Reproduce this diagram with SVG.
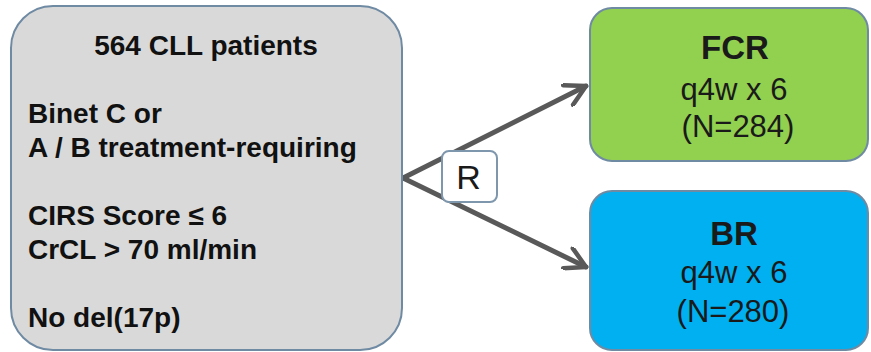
<svg xmlns="http://www.w3.org/2000/svg" width="871" height="352" viewBox="0 0 871 352">
<defs>
<style>
.box{stroke:#6f8aa3;stroke-width:2}
.bt{font-family:"Liberation Sans",Arial,sans-serif;font-weight:bold;font-size:28px;fill:#111}
.ct{font-family:"Liberation Sans",Arial,sans-serif;text-anchor:middle;fill:#1a1a1a}
.conn{stroke:#595959;stroke-width:5;fill:none;stroke-linecap:round}
</style>
<marker id="ah" viewBox="0 0 10 10" refX="9" refY="5" markerWidth="5" markerHeight="5" orient="auto" markerUnits="strokeWidth">
<path d="M1,0.6 L9,5 L1,9.4" fill="none" stroke="#595959" stroke-width="1.8" stroke-linecap="round" stroke-linejoin="round"/>
</marker>
</defs>
<rect width="871" height="352" fill="#ffffff"/>
<g id="connectors">
<path class="conn" d="M403,178 L586,86" marker-end="url(#ah)"/>
<path class="conn" d="M403,178 L586,267" marker-end="url(#ah)"/>
</g>
<g id="patients">
<rect class="box" x="11" y="6" width="391" height="344" rx="42" fill="#d9d9d9"/>
<text class="bt" x="206" y="55" text-anchor="middle">564 CLL patients</text>
<text class="bt" x="28" y="123">Binet C or</text>
<text class="bt" x="28" y="157">A / B treatment-requiring</text>
<text class="bt" x="28" y="225">CIRS Score ≤ 6</text>
<text class="bt" x="28" y="259">CrCL &gt; 70 ml/min</text>
<text class="bt" x="28" y="327">No del(17p)</text>
</g>
<g id="randomization">
<rect x="442" y="151" width="55" height="51" rx="7" fill="#ffffff" stroke="#7f97ad" stroke-width="2"/>
<text class="ct" x="468.5" y="189" font-size="34" fill="#111">R</text>
</g>
<g id="fcr">
<rect class="box" x="590" y="8" width="278" height="153" rx="22" fill="#92d050"/>
<text class="ct" x="735" y="59" font-size="33" font-weight="bold" fill="#111">FCR</text>
<text class="ct" x="734" y="100" font-size="31">q4w x 6</text>
<text class="ct" x="738" y="137" font-size="31">(N=284)</text>
</g>
<g id="br">
<rect class="box" x="590" y="191" width="278" height="159" rx="22" fill="#00b0f0"/>
<text class="ct" x="734" y="245" font-size="33" font-weight="bold" fill="#111">BR</text>
<text class="ct" x="734" y="283" font-size="31">q4w x 6</text>
<text class="ct" x="733" y="322" font-size="31">(N=280)</text>
</g>
</svg>
